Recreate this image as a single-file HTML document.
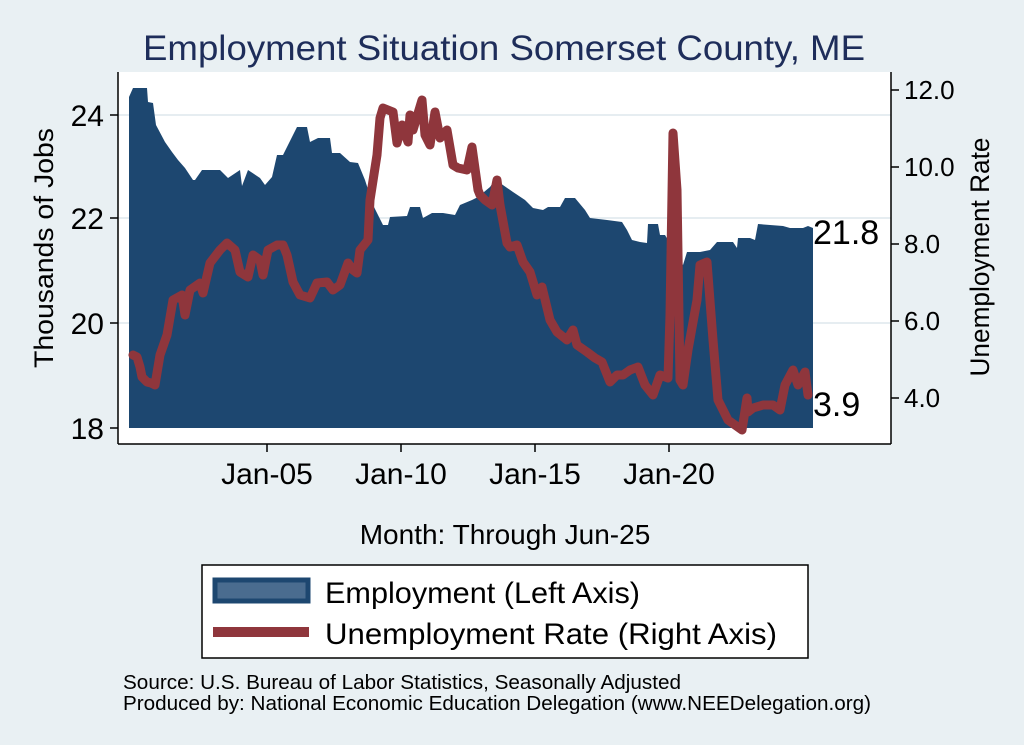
<!DOCTYPE html>
<html><head><meta charset="utf-8"><style>
html,body{margin:0;padding:0;background:#e9f0f3;}
svg{display:block;font-family:"Liberation Sans",Arial,sans-serif;}
</style></head><body>
<svg width="1024" height="745" viewBox="0 0 1024 745" xmlns="http://www.w3.org/2000/svg">
<rect width="1024" height="745" fill="#e9f0f3"/>
<text x="504" y="60" font-size="35" fill="#1e2d5a" text-anchor="middle" textLength="722" lengthAdjust="spacingAndGlyphs">Employment Situation Somerset  County, ME</text>
<rect x="118" y="72" width="773" height="372" fill="#ffffff"/>
<g stroke="#e6edf1" stroke-width="2">
<line x1="118" y1="115" x2="891" y2="115"/>
<line x1="118" y1="218" x2="891" y2="218"/>
<line x1="118" y1="323" x2="891" y2="323"/>
</g>
<polygon fill="#1d4770" points="129,428 129,97 133,88 147,88 148,102 153,103 156,125 165,142 172,152 178,160 185,168 193,180 195,180 202,170 220,170 228,178 240,170 242,186 248,170 260,178 265,185 272,177 277,155 283,155 292,137 297,127 307,127 310,142 318,138 330,138 332,153 340,153 350,162 358,163 365,180 373,205 383,225 388,225 390,217 407,216 410,207 420,207 423,218 432,213 443,213 455,215 460,205 472,200 478,197 490,187 495,180 500,183 513,192 525,200 533,208 543,210 548,207 560,207 565,198 575,198 585,210 590,218 607,220 622,222 627,230 632,240 640,242 647,243 648,224 658,224 660,235 665,235 683,265 687,252 700,252 710,250 717,242 733,242 737,248 738,238 750,238 755,240 758,224 783,226 790,228 803,228 808,226 813,228 813,428"/>
<polyline fill="none" stroke="#8f363c" stroke-width="9" stroke-linejoin="round" stroke-linecap="round" points="133,355 137,357 140,367 142,377 147,382 151,383 155,385 160,355 167,335 173,300 182,295 185,315 190,290 200,283 203,293 210,263 220,250 227,243 235,250 240,272 248,277 253,255 260,260 263,275 268,250 277,245 283,245 287,255 293,282 300,295 310,298 317,283 327,282 333,290 340,285 348,263 353,270 357,273 360,250 368,240 370,200 377,155 380,118 383,108 393,112 397,143 402,125 408,142 410,115 413,130 422,100 425,135 430,145 435,112 440,138 447,130 453,165 458,168 467,170 472,147 478,190 480,195 485,200 492,205 497,180 500,205 507,243 510,247 517,245 523,262 530,272 537,295 542,287 550,320 557,332 567,340 573,330 577,345 587,352 595,358 602,362 610,382 617,375 623,375 630,370 638,367 645,385 653,395 660,375 668,378 670,315 673,133 677,190 680,380 683,385 688,350 697,300 700,265 707,262 713,340 718,400 728,420 735,425 742,430 747,398 748,412 753,408 763,405 773,405 780,410 785,385 793,370 798,385 805,372 808,395"/>
<g stroke="#000" stroke-width="1.5" fill="none">
<line x1="118" y1="72" x2="118" y2="444"/>
<line x1="118" y1="444" x2="891" y2="444"/>
<line x1="891" y1="72" x2="891" y2="444"/>
<line x1="110" y1="115" x2="118" y2="115"/>
<line x1="110" y1="218" x2="118" y2="218"/>
<line x1="110" y1="323" x2="118" y2="323"/>
<line x1="110" y1="428" x2="118" y2="428"/>
<line x1="891" y1="90" x2="899" y2="90"/>
<line x1="891" y1="167" x2="899" y2="167"/>
<line x1="891" y1="244" x2="899" y2="244"/>
<line x1="891" y1="321" x2="899" y2="321"/>
<line x1="891" y1="398" x2="899" y2="398"/>
<line x1="267" y1="444" x2="267" y2="452"/>
<line x1="401" y1="444" x2="401" y2="452"/>
<line x1="535" y1="444" x2="535" y2="452"/>
<line x1="669" y1="444" x2="669" y2="452"/>
</g>
<g font-size="30" fill="#000" text-anchor="end">
<text x="104" y="126">24</text>
<text x="104" y="229">22</text>
<text x="104" y="334">20</text>
<text x="104" y="439">18</text>
</g>
<g font-size="26" fill="#000">
<text x="904" y="99">12.0</text>
<text x="904" y="176">10.0</text>
<text x="904" y="253">8.0</text>
<text x="904" y="330">6.0</text>
<text x="904" y="407">4.0</text>
</g>
<g font-size="30" fill="#000" text-anchor="middle">
<text x="267" y="484">Jan-05</text>
<text x="401" y="484">Jan-10</text>
<text x="535" y="484">Jan-15</text>
<text x="669" y="484">Jan-20</text>
</g>
<text x="813" y="244" font-size="34" fill="#000">21.8</text>
<text x="813" y="416" font-size="34" fill="#000">3.9</text>
<text transform="translate(53,248) rotate(-90)" font-size="27" text-anchor="middle" fill="#000" textLength="240" lengthAdjust="spacingAndGlyphs">Thousands of Jobs</text>
<text transform="translate(989,257) rotate(-90)" font-size="27" text-anchor="middle" fill="#000" textLength="239" lengthAdjust="spacingAndGlyphs">Unemployment Rate</text>
<text x="505" y="544" font-size="28" text-anchor="middle" fill="#000">Month: Through Jun-25</text>
<rect x="202" y="565" width="606" height="93" fill="#ffffff" stroke="#000" stroke-width="1.5"/>
<rect x="215" y="580" width="93" height="21" fill="#4a6c8f" stroke="#1d4770" stroke-width="5"/>
<line x1="213" y1="632" x2="309" y2="632" stroke="#8f363c" stroke-width="10"/>
<text x="325" y="603" font-size="30" fill="#000" textLength="315" lengthAdjust="spacingAndGlyphs">Employment (Left Axis)</text>
<text x="325" y="644" font-size="30" fill="#000" textLength="452" lengthAdjust="spacingAndGlyphs">Unemployment Rate (Right Axis)</text>
<text x="123" y="689" font-size="20" fill="#000" textLength="558" lengthAdjust="spacingAndGlyphs">Source: U.S. Bureau of Labor Statistics, Seasonally Adjusted</text>
<text x="123" y="710" font-size="20" fill="#000" textLength="748" lengthAdjust="spacingAndGlyphs">Produced by: National Economic Education Delegation (www.NEEDelegation.org)</text>
</svg>
</body></html>
